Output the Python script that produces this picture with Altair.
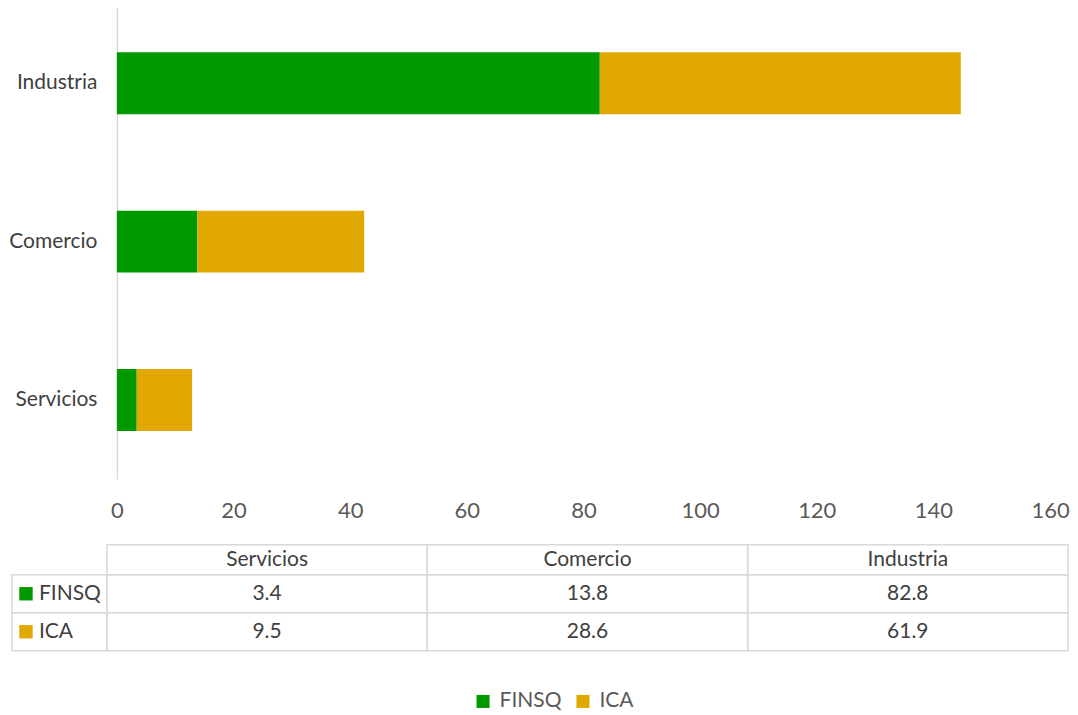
import altair as alt
import pandas as pd

categories = ["Servicios", "Comercio", "Industria"]
series = ["FINSQ", "ICA"]
finsq = [3.4, 13.8, 82.8]
ica = [9.5, 28.6, 61.9]
colors = ["#009900", "#E0A800"]
x_ticks = [0, 20, 40, 60, 80, 100, 120, 140, 160]

FONT = "Lato"
TXT = "#404040"
GRID = "#d9d9d9"
FS = 21

rows = []
for i, c in enumerate(categories):
    rows.append({"cat": c, "series": "FINSQ", "value": finsq[i], "ord": 0})
    rows.append({"cat": c, "series": "ICA", "value": ica[i], "ord": 1})
df = pd.DataFrame(rows)

color_scale = alt.Scale(domain=series, range=colors)

bars = alt.Chart(df).mark_bar().encode(
    y=alt.Y("cat:N", sort=["Industria", "Comercio", "Servicios"],
            scale=alt.Scale(paddingInner=0.609, paddingOuter=0.303),
            axis=alt.Axis(title=None, ticks=False, domainColor=GRID, domainWidth=1.5,
                          labelFontSize=FS, labelColor=TXT, labelPadding=20, labelFont=FONT)),
    x=alt.X("value:Q", stack="zero",
            scale=alt.Scale(domain=[0, 160], nice=False),
            axis=alt.Axis(title=None, values=x_ticks, grid=False, domain=False, ticks=False,
                          labelFlush=False,
                          labelFontSize=22, labelColor="#595959", labelPadding=22, labelFont=FONT)),
    color=alt.Color("series:N", scale=color_scale,
                    legend=alt.Legend(title=None, orient="none", direction="horizontal",
                                      legendX=356, legendY=687,
                                      symbolType="square", symbolSize=170,
                                      symbolStrokeWidth=0, labelFontSize=FS,
                                      labelColor="#595959", labelFont=FONT,
                                      columnPadding=11, labelOffset=6)),
    order=alt.Order("ord:Q"),
).properties(width=934, height=475)

# table data
trows = []
for i, c in enumerate(categories):
    trows.append({"col": c, "row": "FINSQ", "label": f"{finsq[i]:.1f}"})
    trows.append({"col": c, "row": "ICA", "label": f"{ica[i]:.1f}"})
tdf = pd.DataFrame(trows)
hdf = pd.DataFrame({"row": series})
cdf = pd.DataFrame({"col": categories})


def xs(**kw):
    return alt.X("col:N", sort=categories, axis=None,
                 scale=alt.Scale(domain=categories, range=[-10, 952], paddingInner=0, paddingOuter=0), **kw)


def ys(**kw):
    return alt.Y("row:N", axis=None,
                 scale=alt.Scale(domain=series, paddingInner=0, paddingOuter=0), **kw)


cells = alt.Chart(tdf).mark_rect(fillOpacity=0, stroke=GRID, strokeWidth=1.5).encode(x=xs(), y=ys())
ctext = alt.Chart(tdf).mark_text(fontSize=FS, color=TXT, font=FONT).encode(
    x=xs(bandPosition=0.5), y=ys(bandPosition=0.5), text="label:N")

headcells = alt.Chart(cdf).mark_rect(fillOpacity=0, stroke=GRID, strokeWidth=1.5).encode(
    x=xs(), y=alt.value(-30), y2=alt.value(0))
headtext = alt.Chart(cdf).mark_text(fontSize=FS, color=TXT, font=FONT).encode(
    x=xs(bandPosition=0.5), y=alt.value(-15), text="col:N")

hcells = alt.Chart(hdf).mark_rect(fillOpacity=0, stroke=GRID, strokeWidth=1.5).encode(
    x=alt.value(-105), x2=alt.value(-10), y=ys())
hsq = alt.Chart(hdf).mark_point(shape="square", filled=True, size=180, opacity=1).encode(
    x=alt.value(-91), y=ys(bandPosition=0.5),
    color=alt.Color("row:N", scale=color_scale, legend=None))
htext = alt.Chart(hdf).mark_text(fontSize=FS, color=TXT, font=FONT, align="left").encode(
    x=alt.value(-78), y=ys(bandPosition=0.5), text="row:N")

table = alt.layer(cells, ctext, headcells, headtext, hcells, hsq, htext).properties(width=952, height=76)

chart = alt.vconcat(bars, table, spacing=22).properties(
    padding={"left": 0, "top": -4, "right": 0, "bottom": 0}
).configure(font=FONT).configure_view(strokeWidth=0, stroke=None)

chart.save("out.html", embed_options={"renderer": "svg", "actions": False})
